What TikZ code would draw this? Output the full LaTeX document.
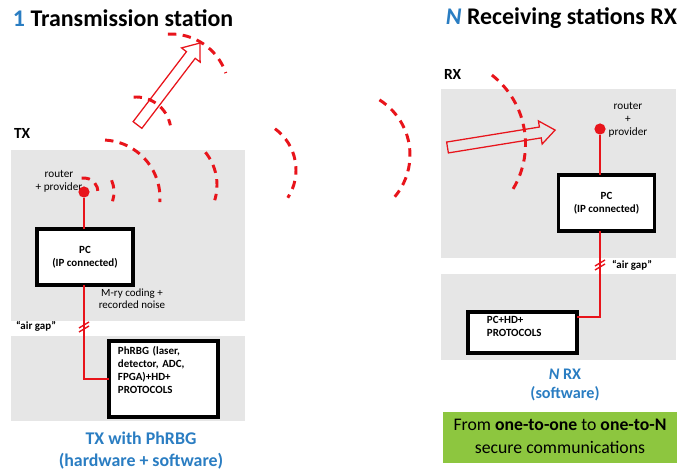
\documentclass[tikz,border=0pt]{standalone}
\usepackage{fontspec}
\setmainfont{Carlito}
\usetikzlibrary{calc}
\definecolor{waveRed}{HTML}{E8141B}
\definecolor{capBlue}{HTML}{2A7DC2}
\definecolor{panelGray}{HTML}{E6E6E6}
\definecolor{noteGreen}{HTML}{8DC63F}
\newcommand{\fs}[2]{\fontsize{#1}{#2}\selectfont}
\tikzset{
	txt/.style={inner sep=0, outer sep=0},
	wave/.style={draw=waveRed, line width=2.1pt, dash pattern=on 6pt off 4.5pt},
	wire/.style={draw=waveRed, line width=1pt},
	pcbox/.style={draw, line width=2.5pt, fill=white, outer sep=0, inner sep=0,
		minimum width=2.4cm, minimum height=1.4cm, font=\bfseries\fs{7.8}{9.2}},
	dot/.style={circle, fill=waveRed, inner sep=0, minimum size=0.28cm},
	airgap/.pic={\draw[wire] (-5,1) -- (5,-5); \draw[wire] (-5,5) -- (5,-1);},
	pics/beam/.style={code={\draw[draw=waveRed, line width=0.9pt]
			(0,-5.5) -- (#1-15,-5.5) -- (#1-15,-11.7) -- (#1,0) -- (#1-15,11.7) -- (#1-15,5.5) -- (0,5.5) -- cycle;}}
}

\begin{document}
\begin{tikzpicture}[x=0.025cm, y=-0.025cm]
	\useasboundingbox (0,0) rectangle (690,471);
	% gray panels
	\fill[panelGray] (11,150) rectangle (245,321);
	\fill[panelGray] (11,336) rectangle (245,421);
	\fill[panelGray] (441,89) rectangle (676,258);
	\fill[panelGray] (441,274) rectangle (676,360);
	
	\node[txt, anchor=west, font=\bfseries\fs{17}{20}] (ttx) at (13,18) {\textcolor{capBlue}{1} Transmission station};
	\node[txt, anchor=east, font=\bfseries\fs{17}{20}] (trx) at (677,18) {\textcolor{capBlue}{\itshape N} Receiving stations RX};
	\node[txt, anchor=west, font=\bfseries\fs{11}{13}] (ltx) at (14,133) {TX};
	\node[txt, anchor=west, font=\bfseries\fs{11}{13}] (lrx) at (444,74) {RX};
	
	% beams
	\pic[rotate=52.7] at (137.5,125) {beam=103};
	\pic[rotate=9.2] at (447.5,147.5) {beam=109};
	
	% waves
	\draw[wave] ([shift={(-100:14)}]84,192) arc[start angle=-100, end angle=0, radius=14];
	\draw[wave] ([shift={(-23:30)}]84,192) arc[start angle=-23, end angle=18, radius=30];
	\draw[wave] ([shift={(-87:58)}]102,198) arc[start angle=-87, end angle=4, radius=58];
	\draw[wave] ([shift={(-39:52)}]165,185) arc[start angle=-39, end angle=17, radius=52];
	\draw[wave] ([shift={(-54:51)}]245,170) arc[start angle=-54, end angle=33, radius=51];
	\draw[wave] ([shift={(-58:65)}]345,155) arc[start angle=-58, end angle=40, radius=65];
	\draw[wave] ([shift={(-93:58)}]171,92) arc[start angle=-93, end angle=-19, radius=58];
	\draw[wave] ([shift={(-94:35)}]136,132) arc[start angle=-94, end angle=-11, radius=35];
	\draw[wave] ([shift={(-52:87.5)}]438,144) arc[start angle=-52, end angle=34, radius=87.5];
	
	% transmission station
	\node[txt, font=\fs{8}{9.2}] (lbtx) at (59,181.5) {\begin{tabular}{c} router\\ + provider \end{tabular}};
	\node[pcbox] (pctx) at (85,257) {\begin{tabular}{c} PC\\ (IP connected) \end{tabular}};
	\node[pcbox, minimum width=2.725cm, minimum height=1.9cm, text width=2.275cm, align=left, text depth=40pt] (phrbg) at (163.5,379) {PhRBG (laser,\\ detector, ADC,\\ FPGA)+HD+\\ PROTOCOLS};
	\node[dot] (rtx) at (84,192) {};
	\draw[wire] (rtx) -- (rtx |- pctx.north);
	\draw[wire] (rtx |- pctx.south) |- (phrbg.west);
	\pic at (84,327) {airgap};
	\node[txt, font=\fs{7.8}{8.7}] (coding) at (132,300) {\begin{tabular}{c} M-ry coding +\\ recorded noise \end{tabular}};
	\node[txt, anchor=west, font=\bfseries\fs{7.8}{9}] (agtx) at (16,326) {“air gap”};
	\node[txt, font=\bfseries\fs{12.7}{15.6}, text=capBlue] (captx) at (141,451) {\begin{tabular}{c} TX with PhRBG\\ (hardware + software) \end{tabular}};
	
	% receiving stations
	\node[txt, font=\fs{8}{9.2}] (lbrx) at (628,120) {\begin{tabular}{c} router\\ +\\ provider \end{tabular}};
	\node[pcbox] (pcrx) at (606.5,203) {\begin{tabular}{c} PC\\ (IP connected) \end{tabular}};
	\node[pcbox, minimum width=2.725cm, minimum height=1.025cm, text width=1.775cm, align=left, text depth=17.5pt] (hdrx) at (522.5,332.5) {PC+HD+\\ PROTOCOLS};
	\node[dot] (rrx) at (600,129) {};
	\draw[wire] (rrx) -- (rrx |- pcrx.north);
	\draw[wire] (rrx |- pcrx.south) |- ([yshift=0.39cm]hdrx.east);
	\pic at (600,265) {airgap};
	\node[txt, anchor=west, font=\bfseries\fs{7.8}{9}] (agrx) at (612,265) {“air gap”};
	\node[txt, font=\bfseries\fs{11.5}{14.2}, text=capBlue] (caprx) at (565,385) {\begin{tabular}{c} {\itshape N} RX\\ (software) \end{tabular}};
	\node[fill=noteGreen, minimum width=5.85cm, minimum height=1.275cm, inner sep=0, font=\fs{12.6}{16.4}] (note) at (560,437.5) {\begin{tabular}{c} From \textbf{one-to-one} to \textbf{one-to-N}\\ secure communications \end{tabular}};
\end{tikzpicture}
\end{document}
